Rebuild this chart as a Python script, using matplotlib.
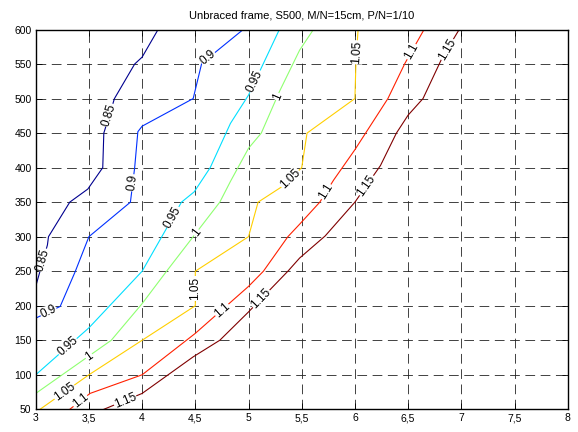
import numpy as np
import matplotlib
matplotlib.use("Agg")
from matplotlib import pyplot as plt
from matplotlib.colors import ListedColormap
from matplotlib.ticker import FuncFormatter, MultipleLocator

plt.rcParams['font.family'] = ['Liberation Sans', 'DejaVu Sans']
plt.rcParams['lines.scale_dashes'] = False

# contour levels and traced contour lines (x = ratio, y = height)
levels = [0.85, 0.9, 0.95, 1.0, 1.05, 1.1, 1.15]

c085_x = [3.0, 3.11, 3.12, 3.32, 3.49, 3.63, 3.64, 3.74, 3.93, 4.0, 4.15]
c085_y = [228, 288, 300, 350, 369, 400, 450, 500, 550, 560, 600]

c090_x = [3.0, 3.23, 3.37, 3.5, 3.89, 3.93, 3.96, 4.0, 4.48, 4.56, 4.95]
c090_y = [182, 199, 249, 300, 350, 400, 452, 460, 500, 551, 600]

c095_x = [3.0, 3.5, 4.0, 4.37, 4.49, 4.64, 4.83, 5.0, 5.29]
c095_y = [100, 168, 250, 350, 365, 400, 464, 505, 600]

c100_x = [3.0, 3.71, 4.0, 4.23, 4.48, 4.73, 4.83, 5.0, 5.12, 5.29, 5.48, 5.61]
c100_y = [73, 150, 203, 250, 300, 350, 380, 428, 450, 510, 570, 600]

c105_x = [3.04, 3.5, 4.0, 4.5, 4.5, 5.0, 5.09, 5.31, 5.5, 5.55, 6.0, 6.01, 6.03]
c105_y = [50, 100, 150, 200, 250, 300, 350, 372, 400, 450, 500, 554, 600]

c110_x = [3.32, 3.51, 4.0, 4.5, 5.0, 5.14, 5.37, 5.48, 5.67, 5.8, 6.0, 6.31, 6.47, 6.65]
c110_y = [50, 73, 100, 160, 228, 250, 300, 318, 350, 382, 426, 500, 551, 600]

c115_x = [3.64, 4.0, 4.48, 4.73, 5.0, 5.37, 5.48, 5.72, 6.0, 6.24, 6.39, 6.5, 6.64, 6.82, 6.98]
c115_y = [50, 73, 126, 150, 191, 250, 269, 301, 350, 403, 450, 476, 500, 559, 600]

contours = [(c085_x, c085_y), (c090_x, c090_y), (c095_x, c095_y), (c100_x, c100_y),
            (c105_x, c105_y), (c110_x, c110_y), (c115_x, c115_y)]

# label positions along each contour
labels = [
    [(3.69, 476), (3.07, 266)],
    [(4.62, 559), (3.91, 378), (3.12, 191)],
    [(5.06, 525), (4.29, 328), (3.3, 141)],
    [(5.27, 503), (4.51, 306), (3.5, 127)],
    [(6.015, 567), (5.39, 384), (4.5, 225), (3.27, 75)],
    [(6.53, 568), (5.73, 365), (4.75, 194), (3.42, 62)],
    [(6.87, 571), (6.11, 374), (5.12, 210), (3.84, 63)],
]


def matlab_jet(m=64):
    n = int(np.ceil(m / 4))
    u = np.concatenate([np.arange(1, n + 1) / n, np.ones(n - 1), np.arange(n, 0, -1) / n])
    g = int(np.ceil(n / 2)) - (m % 4 == 1) + np.arange(1, len(u) + 1)
    r = g + n
    b = g - n
    cmap = np.zeros((m, 3))
    for ch, idx in ((0, r), (1, g), (2, b)):
        ok = (idx >= 1) & (idx <= m)
        cmap[idx[ok] - 1, ch] = u[ok]
    return ListedColormap(cmap)


jet = matlab_jet(64)

fig = plt.figure(figsize=(5.78, 4.32), dpi=100)
ax = fig.add_axes([0.0618, 0.0525, 0.9204, 0.8792])
ax.set_xlim(3, 8)
ax.set_ylim(50, 600)

norm = plt.Normalize(levels[0], levels[-1])
for lev, (xs, ys) in zip(levels, contours):
    ax.plot(xs, ys, color=jet(min(norm(lev), 0.999)), lw=0.8, zorder=3)


def label_angle(xs, ys, px, py):
    pts = ax.transData.transform(np.column_stack([xs, ys]))
    p = ax.transData.transform([px, py])
    best = None
    for i in range(len(pts) - 1):
        a, b = pts[i], pts[i + 1]
        d = b - a
        t = np.clip(np.dot(p - a, d) / max(np.dot(d, d), 1e-9), 0, 1)
        dist = np.linalg.norm(a + t * d - p)
        if best is None or dist < best[0]:
            best = (dist, d)
    ang = np.degrees(np.arctan2(best[1][1], best[1][0]))
    if ang > 90:
        ang -= 180
    if ang < -90:
        ang += 180
    return ang


for lev, (xs, ys), labs in zip(levels, contours, labels):
    for (lx, ly) in labs:
        ax.text(lx, ly, '%g' % lev, rotation=label_angle(xs, ys, lx, ly),
                rotation_mode='anchor', ha='center', va='center', fontsize=8.5,
                bbox=dict(fc='white', ec='none', pad=0.3), zorder=4)

ax.xaxis.set_major_locator(MultipleLocator(0.5))
ax.yaxis.set_major_locator(MultipleLocator(50))
ax.xaxis.set_major_formatter(FuncFormatter(lambda v, p: ('%g' % v).replace('.', ',')))
ax.grid(True, color='#222222', ls=(0, (7, 4)), lw=0.6)
ax.set_axisbelow(True)
ax.tick_params(direction='in', top=True, right=True, length=4, width=0.6,
               labelsize=7.5, pad=3)
for s in ax.spines.values():
    s.set_linewidth(1.0)
    s.set_zorder(5)

ax.set_title('Unbraced frame, S500, M/N=15cm, P/N=1/10', fontsize=8, pad=8)

fig.savefig('out.png', dpi=100)
